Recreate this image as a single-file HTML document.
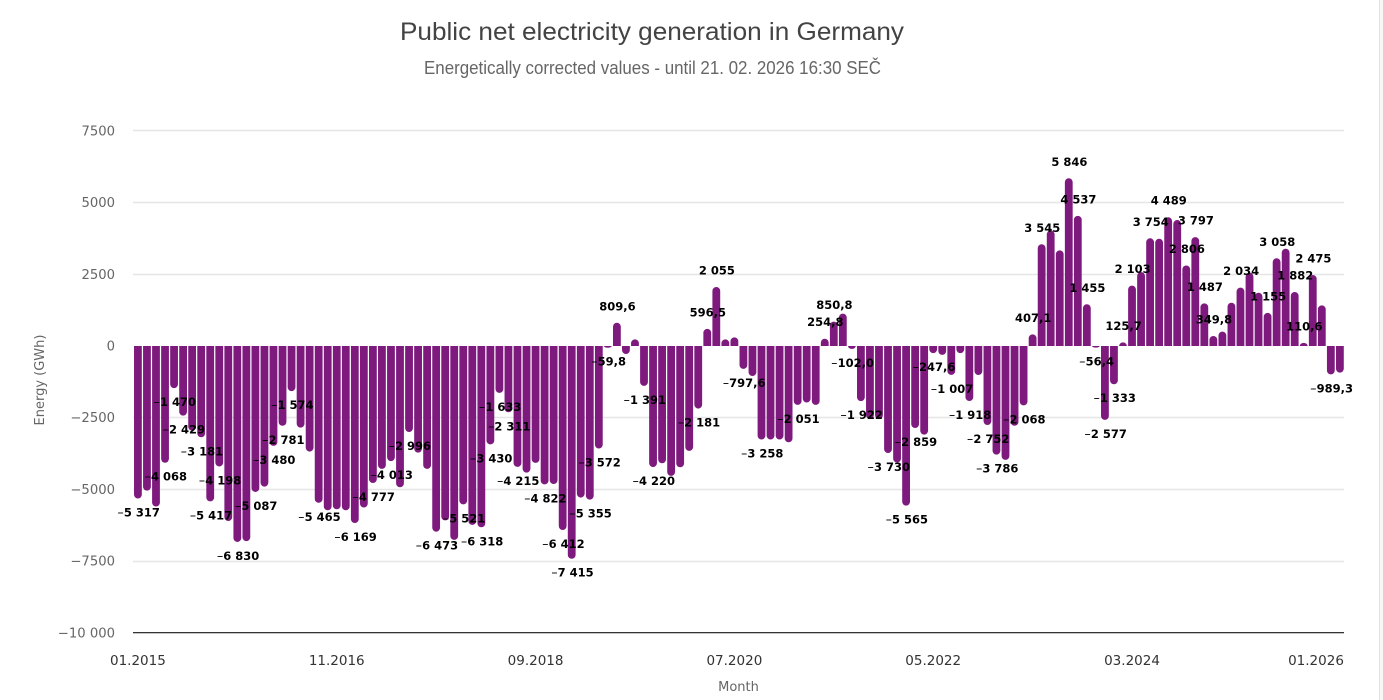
<!DOCTYPE html>
<html lang="en">
<head>
<meta charset="utf-8">
<title>Public net electricity generation in Germany</title>
<style>
  html, body { margin: 0; padding: 0; background: #fff; width: 1383px; height: 700px; overflow: hidden; }
  svg { display: block; }
  .ax { font-family: "DejaVu Sans", "Liberation Sans", sans-serif; }
  .hd { font-family: "Liberation Sans", sans-serif; }
</style>
</head>
<body>
<svg id="chart" xmlns="http://www.w3.org/2000/svg" width="1383" height="700" viewBox="0 0 1383 700">
  <rect x="0" y="0" width="1383" height="700" fill="#ffffff"/>
  <rect x="1379" y="0" width="4" height="700" fill="#f7f7f7"/>
  <rect x="1379" y="0" width="1" height="700" fill="#e2e2e2"/>
  <text class="hd" x="400" y="40" font-size="25" fill="#434343" textLength="504" lengthAdjust="spacingAndGlyphs">Public net electricity generation in Germany</text>
  <text class="hd" x="424" y="74" font-size="18" fill="#666666" textLength="457" lengthAdjust="spacingAndGlyphs">Energetically corrected values - until 21. 02. 2026 16:30 SEČ</text>
  <text class="ax" transform="translate(44,380) rotate(-90)" text-anchor="middle" font-size="13" fill="#666666">Energy (GWh)</text>
  <text class="ax" x="738.5" y="691" text-anchor="middle" font-size="13" fill="#666666">Month</text>
  <g id="grid"></g>
  <g id="yticks"></g>
  <g id="bars"></g>
  <line x1="133" x2="1344" y1="633.5" y2="633.5" stroke="#c4c4c4" stroke-width="1"/>
  <line x1="133" x2="1344" y1="632.5" y2="632.5" stroke="#333333" stroke-width="1"/>
  <g id="xticks"></g>
  <g id="labels"></g>
</svg>
<script>
const categories = [
  "01.2015","02.2015","03.2015","04.2015","05.2015","06.2015","07.2015","08.2015","09.2015","10.2015","11.2015","12.2015",
  "01.2016","02.2016","03.2016","04.2016","05.2016","06.2016","07.2016","08.2016","09.2016","10.2016","11.2016","12.2016",
  "01.2017","02.2017","03.2017","04.2017","05.2017","06.2017","07.2017","08.2017","09.2017","10.2017","11.2017","12.2017",
  "01.2018","02.2018","03.2018","04.2018","05.2018","06.2018","07.2018","08.2018","09.2018","10.2018","11.2018","12.2018",
  "01.2019","02.2019","03.2019","04.2019","05.2019","06.2019","07.2019","08.2019","09.2019","10.2019","11.2019","12.2019",
  "01.2020","02.2020","03.2020","04.2020","05.2020","06.2020","07.2020","08.2020","09.2020","10.2020","11.2020","12.2020",
  "01.2021","02.2021","03.2021","04.2021","05.2021","06.2021","07.2021","08.2021","09.2021","10.2021","11.2021","12.2021",
  "01.2022","02.2022","03.2022","04.2022","05.2022","06.2022","07.2022","08.2022","09.2022","10.2022","11.2022","12.2022",
  "01.2023","02.2023","03.2023","04.2023","05.2023","06.2023","07.2023","08.2023","09.2023","10.2023","11.2023","12.2023",
  "01.2024","02.2024","03.2024","04.2024","05.2024","06.2024","07.2024","08.2024","09.2024","10.2024","11.2024","12.2024",
  "01.2025","02.2025","03.2025","04.2025","05.2025","06.2025","07.2025","08.2025","09.2025","10.2025","11.2025","12.2025",
  "01.2026","02.2026"
];
const netGeneration = [
  -5317,-5040,-5596,-4068,-1470,-2429,-2950,-3181,-5417,-4198,-6100,-6830,
  -6800,-5087,-4900,-3480,-2781,-1574,-2845,-3680,-5465,-5724,-5689,-5724,
  -6169,-5630,-4777,-4285,-4013,-4923,-2996,-3715,-4285,-6473,-6080,-6757,
  -5521,-6235,-6318,-3430,-1633,-2311,-4215,-4412,-4075,-4822,-4810,-6412,
  -7415,-5283,-5355,-3572,-59.8,809.6,-280,230,-1391,-4220,-4087,-4528,
  -4226,-3657,-2181,596.5,2055,230,300,-797.6,-1045,-3258,-3258,-3258,
  -3355,-2051,-1970,-2051,254.8,850.8,1130,-102,-1922,-2550,-2550,-3730,
  -4060,-5565,-2859,-3088,-247.6,-310,-1007,-250,-1918,-1010,-2752,-3786,
  -3970,-2780,-2068,407.1,3545,4029,3332,5846,4537,1455,-56.4,-2577,
  -1333,125.7,2103,2577,3754,3738,4489,4390,2806,3797,1487,349.8,
  500,1509,2034,2554,1858,1155,3058,3390,1882,110.6,2475,1416,
  -989.3,-930
];
const labelledMonths = [
  "01.2015","04.2015","05.2015","06.2015","08.2015","09.2015","10.2015","12.2015",
  "02.2016","04.2016","05.2016","06.2016","09.2016",
  "01.2017","03.2017","05.2017","07.2017","10.2017",
  "01.2018","03.2018","04.2018","05.2018","06.2018","07.2018","10.2018","12.2018",
  "01.2019","03.2019","04.2019","05.2019","06.2019","09.2019","10.2019",
  "03.2020","04.2020","05.2020","08.2020","10.2020",
  "02.2021","05.2021","06.2021","08.2021","09.2021","12.2021",
  "02.2022","03.2022","05.2022","07.2022","09.2022","11.2022","12.2022",
  "03.2023","04.2023","05.2023","08.2023","09.2023","10.2023","11.2023","12.2023",
  "01.2024","02.2024","03.2024","05.2024","07.2024","09.2024","10.2024","11.2024","12.2024",
  "03.2025","06.2025","07.2025","09.2025","10.2025","11.2025",
  "01.2026"
];
const yTickValues = [7500, 5000, 2500, 0, -2500, -5000, -7500, -10000];
const yTickLabels = ["7500", "5000", "2500", "0", "\u22122500", "\u22125000", "\u22127500", "\u221210 000"];
const xTickLabels = ["01.2015", "11.2016", "09.2018", "07.2020", "05.2022", "03.2024", "01.2026"];

const NS = "http://www.w3.org/2000/svg";
const plotLeft = 133, plotRight = 1344, zeroY = 346, pxPerUnit = 0.02869;
const band = (plotRight - plotLeft) / categories.length;
const barWidth = 7.8;
function yScale(v) { return zeroY - v * pxPerUnit; }
function xScale(i) { return plotLeft + (i + 0.5) * band + 0.4; }
function formatMagnitude(v) {
  const a = Math.abs(v);
  return a < 1000 ? a.toFixed(1).replace(".", ",") : String(Math.round(a)).replace(/\B(?=(\d{3})+$)/g, " ");
}
function barPath(cx, v) {
  const y0 = yScale(0), y1 = yScale(v), h = Math.abs(y1 - y0);
  const l = cx - barWidth / 2, r = cx + barWidth / 2, rx = barWidth / 2, ry = Math.min(rx, h);
  const dir = v < 0 ? 1 : -1, sweep = v < 0 ? 0 : 1;
  return "M" + l + " " + y0 + "L" + l + " " + (y1 - dir * ry) +
    "A" + rx + " " + ry + " 0 0 " + sweep + " " + r + " " + (y1 - dir * ry) +
    "L" + r + " " + y0 + "Z";
}

const gridG = document.getElementById("grid");
const yTickG = document.getElementById("yticks");
yTickValues.forEach(function (v, i) {
  const y = Math.floor(yScale(v)) + 0.5;
  if (v !== 0 && v !== -10000) {
    const line = document.createElementNS(NS, "line");
    
    
    line.setAttribute("x1", plotLeft);
    line.setAttribute("x2", plotRight);
    line.setAttribute("y1", y);
    line.setAttribute("y2", y);
    line.setAttribute("stroke", "#e6e6e6");
    line.setAttribute("stroke-width", "1.5");
    gridG.appendChild(line);
  }
  const t = document.createElementNS(NS, "text");
  
  
  t.setAttribute("class", "ax");
  t.setAttribute("x", 115);
  t.setAttribute("y", yScale(v) + 4.5);
  t.setAttribute("text-anchor", "end");
  t.setAttribute("font-size", "13.2");
  t.setAttribute("fill", "#666666");
  t.textContent = yTickLabels[i];
  yTickG.appendChild(t);
});

const barsG = document.getElementById("bars");
netGeneration.forEach(function (v, i) {
  const p = document.createElementNS(NS, "path");
  
  
  p.setAttribute("d", barPath(xScale(i), v));
  p.setAttribute("fill", "#7e1a7e");
  barsG.appendChild(p);
});

const xTickG = document.getElementById("xticks");
xTickLabels.forEach(function (label) {
  const i = categories.indexOf(label);
  const halfWidth = 28;
  const cx = Math.min(xScale(i), plotRight - halfWidth);
  const t = document.createElementNS(NS, "text");
  
  
  t.setAttribute("class", "ax");
  t.setAttribute("x", cx);
  t.setAttribute("y", 665);
  t.setAttribute("text-anchor", "middle");
  t.setAttribute("font-size", "13.5");
  t.setAttribute("fill", "#333333");
  t.textContent = label;
  xTickG.appendChild(t);
});

const labelG = document.getElementById("labels");
labelledMonths.forEach(function (month) {
  const i = categories.indexOf(month);
  const v = netGeneration[i];
  const t = document.createElementNS(NS, "text");
  
  
  t.setAttribute("class", "ax");
  t.setAttribute("x", xScale(i) + 0.6);
  t.setAttribute("y", v < 0 ? yScale(v) + 18 : yScale(v) - 12.5);
  t.setAttribute("text-anchor", "middle");
  t.setAttribute("font-size", "11.5");
  t.setAttribute("font-weight", "bold");
  t.setAttribute("fill", "#000000");
  if (v < 0) {
    const minus = document.createElementNS(NS, "tspan");
    minus.setAttribute("font-size", "8");
    minus.setAttribute("dy", "-1");
    minus.textContent = "\u2212";
    t.appendChild(minus);
    const digits = document.createElementNS(NS, "tspan");
    digits.setAttribute("dy", "1");
    digits.textContent = formatMagnitude(v);
    t.appendChild(digits);
  } else {
    t.textContent = formatMagnitude(v);
  }
  labelG.appendChild(t);
});
</script>
</body>
</html>
